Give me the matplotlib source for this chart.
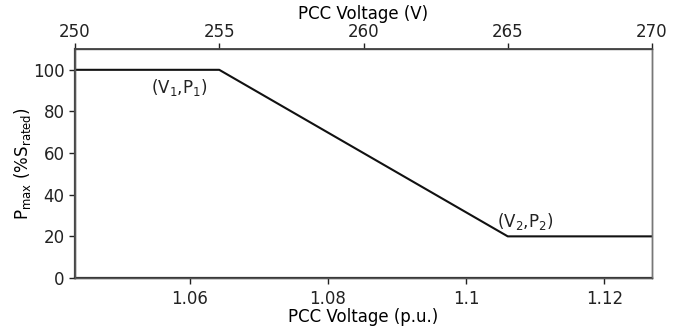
import matplotlib
matplotlib.use("Agg")
import matplotlib.pyplot as plt

# volt-watt curve
volts = [250, 255, 265, 270]
p_max = [100, 100, 20, 20]
v_base = 239.6
pu_ticks = [1.06, 1.08, 1.1, 1.12]
pu_labels = ["1.06", "1.08", "1.1", "1.12"]
v_ticks = [250, 255, 260, 265, 270]
y_ticks = [0, 20, 40, 60, 80, 100]

plt.rcParams['font.family'] = 'DejaVu Sans'
plt.rcParams['font.size'] = 12

fig = plt.figure(figsize=(6.87, 3.31), dpi=100)
ax = fig.add_axes([75/687, 1-278/331, (652-75)/687, (278-49)/331])

pu = [v / v_base for v in volts]
ax.plot(pu, p_max, color='#111111', lw=1.5)
ax.set_xlim(volts[0] / v_base, volts[-1] / v_base)
ax.set_ylim(0, 110)
ax.set_xticks(pu_ticks)
ax.set_xticklabels(pu_labels)
ax.set_yticks(y_ticks)
ax.set_xlabel("PCC Voltage (p.u.)", labelpad=0)
ax.set_ylabel("P$_{\\mathrm{max}}$ (%S$_{\\mathrm{rated}}$)", labelpad=0)

ax2 = ax.twiny()
ax2.set_xlim(volts[0], volts[-1])
ax2.set_xticks(v_ticks)
ax2.set_xlabel("PCC Voltage (V)", labelpad=3)

for a in (ax, ax2):
    a.tick_params(colors='#222222', length=4, width=1)
    for s in a.spines.values():
        s.set_color('#555555')
        s.set_linewidth(1.0)
ax.tick_params(axis='x', pad=5)
ax2.tick_params(axis='x', pad=1.5)
ax.spines['left'].set_linewidth(1.6)
ax.spines['bottom'].set_linewidth(1.6)
ax.spines['left'].set_color('#444444')
ax.spines['bottom'].set_color('#333333')
ax2.spines['top'].set_color('#444444')
ax2.spines['top'].set_linewidth(1.3)
ax2.spines['right'].set_color('#777777')

ax2.text(253.6, 91.3, "(V$_1$,P$_1$)", ha='center', va='center', color='#222222')
ax2.text(265.6, 27.3, "(V$_2$,P$_2$)", ha='center', va='center', color='#222222')

fig.savefig("out.png", dpi=100)
